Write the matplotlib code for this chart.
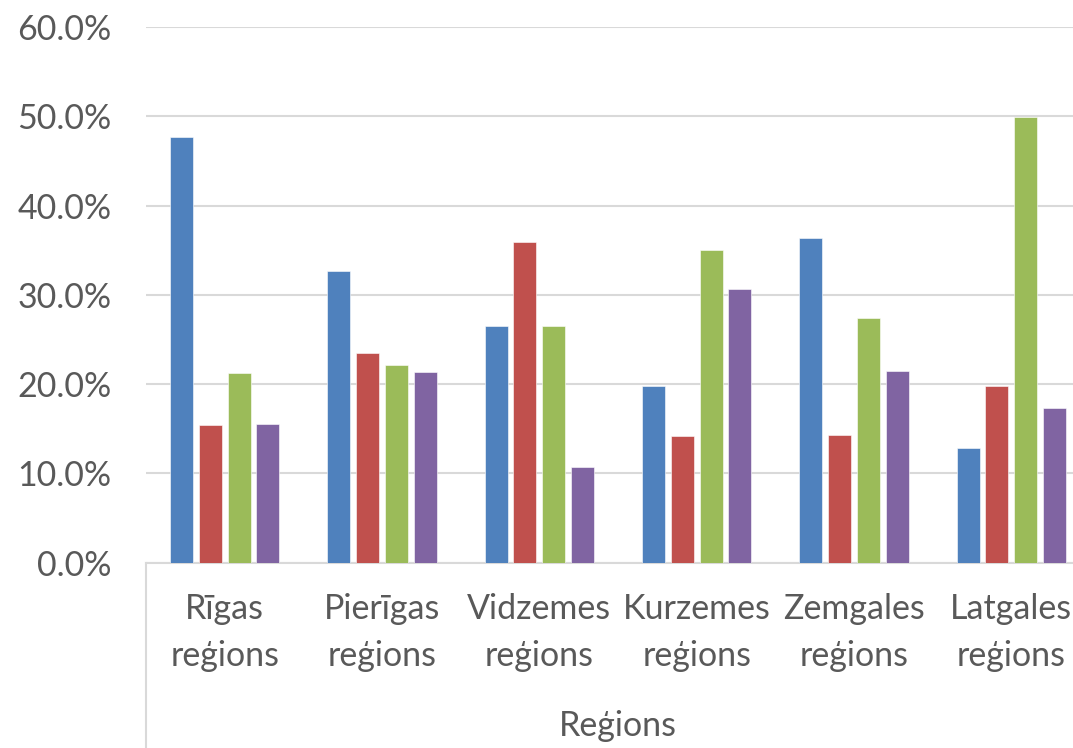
import numpy as np
import matplotlib
matplotlib.use("Agg")
import matplotlib.pyplot as plt
from matplotlib.lines import Line2D
from matplotlib.ticker import FuncFormatter

# data (shares, 0..1)
regions = ["Rīgas\nreģions", "Pierīgas\nreģions", "Vidzemes\nreģions",
           "Kurzemes\nreģions", "Zemgales\nreģions", "Latgales\nreģions"]
series_1 = [0.477, 0.327, 0.265, 0.198, 0.364, 0.128]
series_2 = [0.154, 0.235, 0.359, 0.142, 0.143, 0.198]
series_3 = [0.212, 0.221, 0.265, 0.350, 0.274, 0.499]
series_4 = [0.155, 0.214, 0.107, 0.307, 0.215, 0.173]
colors = ["#4F81BD", "#C0504D", "#9BBB59", "#8064A2"]
axis_title = "Reģions"

TEXT = "#595959"
GRID = "#D9D9D9"
W, H = 1073, 748
FS = 24.5

plt.rcParams["font.family"] = ["Lato", "DejaVu Sans"]

fig = plt.figure(figsize=(W / 100, H / 100), dpi=100)
# plot area runs a bit past the right edge, as in the reference
ax = fig.add_axes([146 / W, (H - 562.7) / H, (1090 - 146) / W, (562.7 - 27) / H])

x = np.arange(len(regions))
pitch = 0.183
bw = 0.146
for i, (vals, c) in enumerate(zip([series_1, series_2, series_3, series_4], colors)):
    ax.bar(x + (i - 1.5) * pitch, vals, width=bw, color=c, zorder=3,
           edgecolor="white", linewidth=0.4)

ax.set_xlim(-0.5, len(regions) - 0.5)
ax.set_ylim(0, 0.6)
ax.set_yticks(np.arange(0, 0.61, 0.1))
ax.yaxis.set_major_formatter(FuncFormatter(lambda v, _: f"{v * 100:.1f}%"))
ax.grid(axis="y", color=GRID, linewidth=1.5, zorder=0)
ax.set_xticks(x)
ax.set_xticklabels(regions, linespacing=1.55)

for s in ["top", "right", "left"]:
    ax.spines[s].set_visible(False)
ax.spines["bottom"].set_color(GRID)
ax.spines["bottom"].set_linewidth(1.5)

ax.tick_params(axis="both", length=0, labelsize=FS, labelcolor=TEXT)
ax.tick_params(axis="y", pad=25)
ax.tick_params(axis="x", pad=22)

# left edge of the multi-level category axis
fig.add_artist(Line2D([146 / W, 146 / W], [0, (H - 562.7) / H], color=GRID, linewidth=1.5))
fig.text(618 / W, (H - 726) / H, axis_title, ha="center", va="center",
         fontsize=FS, color=TEXT)

fig.savefig("out.png", dpi=100, facecolor="white")
